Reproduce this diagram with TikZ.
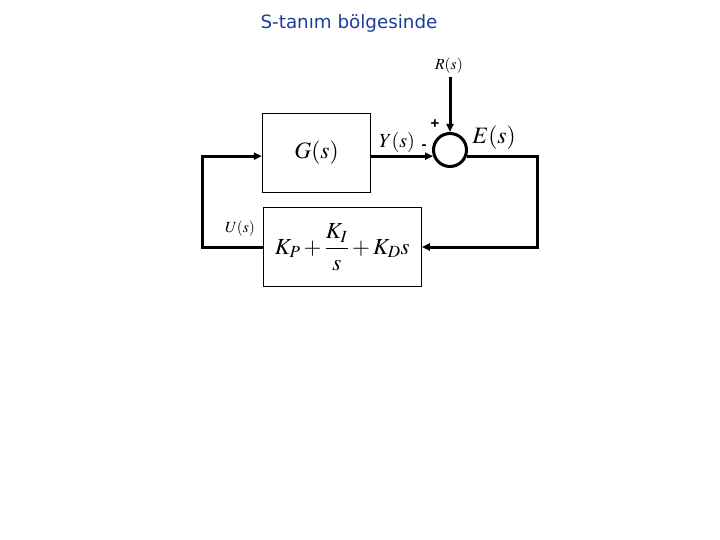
\documentclass[tikz,border=0pt]{standalone}
\usepackage{mathptmx}
\usepackage{fontspec}
\setmainfont{Liberation Serif}
\newfontfamily\ttlfont{DejaVu Sans}
\newfontfamily\sgnfont{Liberation Sans}
\usepackage{tikz}
\usetikzlibrary{arrows.meta,positioning,calc}
\definecolor{TitleBlue}{HTML}{1C3C9C}

\begin{document}
\begin{tikzpicture}[x=1pt,y=-1pt,
    blk/.style={draw,line width=1.3pt,inner sep=0pt,minimum height=79pt},
    sig/.style={line width=3pt,-{Triangle[length=8pt,width=7pt]}},
    big/.style={font=\fontsize{23.5}{27}\selectfont},
    mid/.style={font=\fontsize{20}{24}\selectfont},
    sml/.style={font=\fontsize{15.5}{18}\selectfont},
    sgn/.style={font=\sgnfont\bfseries\fontsize{15}{18}\selectfont}]
    \useasboundingbox (0,0) rectangle (720,540);
    \node[font=\ttlfont\fontsize{18.3}{22}\selectfont,text=TitleBlue] (ttl) at (349,23) {S-tanım bölgesinde};
    \node[blk,big,minimum width=108pt] (G) at (316.5,152.75) {$G(s)$};
    \node[blk,font=\fontsize{23}{27}\selectfont,minimum width=158pt] (pid) at (342.2,247) {$K_P+\displaystyle\frac{K_I}{s}+K_D s$};
    \node[circle,draw,line width=3pt,minimum size=33pt,inner sep=0pt] (sum) at (450,150) {};
    \coordinate (rin) at (450,77);
    \coordinate (er) at (537,247);
    \coordinate (ul) at (202,247);
    \draw[sig] (rin) -- (sum.north);
    \draw[sig] (G.east |- sum.200) -- (sum.200);
    \draw[sig] (sum.340) -| (er) -- (pid.east);
    \draw[sig] (pid.west) -- (ul) |- (G.west |- sum.200);
    \node[sml] (rlbl) at (449,66) {$R(s)$};
    \node[sml] (ulbl) at (240,229) {$U(s)$};
    \node[mid] (ylbl) at (397,143) {$Y(s)$};
    \node[big] (elbl) at (494,138) {$E(s)$};
    \node[sgn] (plus) at (435,124) {+};
    \node[sgn] (minus) at (424,147) {-};
  \end{tikzpicture}
\end{document}
